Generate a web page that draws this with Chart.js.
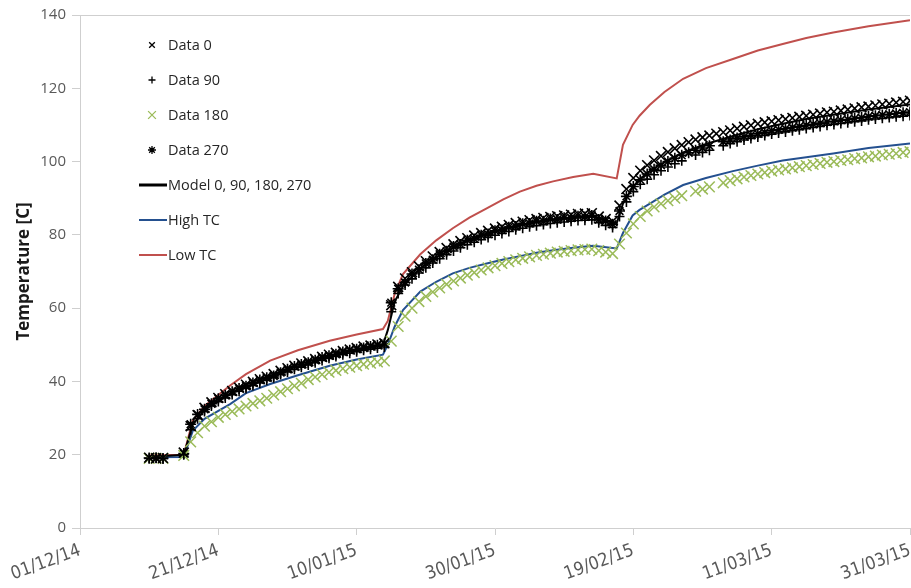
<!DOCTYPE html>
<html>
<head>
<meta charset="utf-8">
<title>Temperature</title>
<script src="https://cdn.jsdelivr.net/npm/chart.js@4.4.1/dist/chart.umd.min.js"></script>
<style>
  html, body { margin: 0; padding: 0; background: #ffffff; }
  canvas { display: block; }
</style>
</head>
<body>
<canvas id="chart" width="911" height="588"></canvas>
<script>
// Days counted from 01/12/14
const tickDays = [0, 20, 40, 60, 80, 100, 120];
const tickLabels = ['01/12/14', '21/12/14', '10/01/15', '30/01/15', '19/02/15', '11/03/15', '31/03/15'];
const yTitle = 'Temperature [C]';

// Measurement days (daily readings)
const dataDays = [10,11,12,15,16,17,18,19,20,21,22,23,24,25,26,27,28,29,30,31,32,33,34,35,36,37,38,39,40,41,42,43,44,
  45,46,47,48,49,50,51,52,53,54,55,56,57,58,59,60,61,62,63,64,65,66,67,68,69,70,71,72,73,74,75,76,77,
  78,79,80,81,82,83,84,85,86,87,88,89,90,91,92,93,94,95,96,97,98,99,100,101,102,103,104,105,106,107,108,109,110,
  111,112,113,114,115,116,117,118,119,120];

const data0 = [19.2,19.0,19.1,
  20.6,27.8,30.8,32.8,34.3,35.5,36.5,37.4,38.3,39.1,39.9,40.6,41.3,42.0,42.9,43.6,44.3,44.9,45.5,46.1,46.7,47.3,47.8,48.3,48.7,49.1,49.5,49.8,50.1,50.4,
  60.8,65.8,68.1,69.8,71.4,72.8,74.1,75.3,76.4,77.4,78.3,79.1,79.8,80.5,81.1,81.7,82.2,82.7,83.2,83.6,84.0,84.3,84.6,84.9,85.1,85.3,85.5,85.7,85.8,85.9,85.0,84.3,83.7,
  88.0,92.5,95.5,97.5,99.0,100.3,101.5,102.6,103.6,104.5,105.3,106.0,106.6,107.1,107.6,108.0,108.5,109.0,109.5,109.9,110.3,110.7,111.0,111.3,111.6,111.9,112.2,112.5,112.8,113.1,113.4,113.6,113.9,114.2,114.5,114.8,115.0,115.3,115.6,115.8,116.1,116.3,116.6];

const data90 = [19.0,19.1,19.0,
  20.0,26.8,29.8,31.8,33.3,34.5,35.5,36.4,37.3,38.1,38.9,39.6,40.3,41.0,41.9,42.6,43.3,43.9,44.5,45.1,45.7,46.3,46.8,47.3,47.7,48.1,48.5,48.8,49.1,49.4,
  59.0,64.0,66.3,68.0,69.6,71.0,72.3,73.5,74.6,75.6,76.5,77.3,78.0,78.7,79.3,79.9,80.4,80.9,81.4,81.8,82.2,82.5,82.8,83.1,83.3,83.5,83.7,83.9,84.0,84.1,83.3,82.6,82.0,
  85.0,89.0,91.8,93.8,95.2,96.4,97.5,98.5,99.4,100.2,null,101.8,102.5,103.1,null,104.3,104.9,105.4,105.9,106.3,106.7,107.1,107.5,107.8,108.1,108.4,108.7,109.0,109.3,109.6,109.9,110.1,110.4,110.6,110.9,111.1,111.4,111.6,111.8,112.0,112.2,112.4,112.6];

const data180 = [19.0,19.0,19.0,
  19.8,23.5,26.0,27.8,29.0,30.2,31.0,31.8,32.5,33.3,34.0,34.7,35.4,36.3,37.2,38.0,38.8,39.5,40.5,41.2,41.9,42.5,43.0,43.5,43.9,44.3,44.7,45.0,45.3,45.6,
  51.0,55.0,57.8,60.0,61.8,63.2,64.4,65.5,66.5,67.4,68.2,69.0,69.7,70.4,71.0,71.6,72.2,72.7,73.2,73.6,74.0,74.4,74.7,75.0,75.3,75.5,75.7,75.9,76.0,76.1,75.7,75.3,74.9,
  77.5,80.5,83.0,85.0,86.5,87.6,88.5,89.3,90.0,90.7,null,91.9,92.5,93.1,null,94.2,94.8,95.3,95.8,96.2,96.6,97.0,97.4,97.7,98.0,98.3,98.6,98.9,99.2,99.5,99.8,100.0,100.3,100.5,100.8,101.0,101.3,101.5,101.8,102.0,102.2,102.5,102.7];

const data270 = [19.1,19.2,19.0,
  20.3,28.3,31.0,32.4,33.9,35.3,36.2,37.2,38.1,38.7,39.6,40.4,41.0,41.5,42.4,43.3,44.1,44.6,45.1,45.8,46.5,47.0,47.4,48.0,48.5,48.8,49.1,49.5,49.9,50.2,
  61.5,65.3,67.0,69.3,70.5,72.2,73.2,74.7,75.5,76.8,77.4,78.5,78.9,79.9,80.2,81.1,81.3,82.1,82.3,83.0,83.1,83.7,83.7,84.3,84.2,84.7,84.6,85.1,84.9,85.3,84.2,83.8,82.9,
  86.5,90.5,93.2,95.0,96.6,97.9,99.0,100.0,100.9,101.7,102.4,103.1,103.7,104.3,null,105.4,105.9,106.4,106.8,107.2,107.6,108.0,108.4,108.7,109.0,109.3,109.6,109.9,110.2,110.5,110.8,111.0,111.3,111.5,111.8,112.0,112.3,112.5,112.7,112.9,113.1,113.3,113.5];

// Simulation output
const modelDays = [10,15,16.3,18,21.7,24,27.5,31.5,36.1,40,43.8,44.5,45.5,46.7,49.2,51.5,53.9,56.3,58.8,61.2,
  63.6,66,68.4,71.3,74.2,77.6,78.5,79.9,80.9,82.4,84.5,87.2,90.5,94.4,98,101.6,105,108.9,114,120];
const modelAll = [19.4,20.0,28.2,32.2,36.6,39.2,41.5,44.6,47.0,48.7,50.0,54.0,61.8,66.0,70.8,73.8,76.4,78.6,80.2,81.6,
  82.6,83.5,84.1,84.7,85.1,83.2,88.5,93.0,95.2,97.5,99.8,102.5,104.8,107.0,108.8,110.3,111.6,112.8,114.2,115.6];
const highTC   = [19.3,19.4,26.5,29.8,33.8,36.8,39.3,41.7,44.3,46.0,47.3,50.0,55.0,59.5,64.5,67.2,69.5,71.0,72.2,73.3,
  74.2,75.1,75.8,76.5,77.0,76.3,80.5,85.3,86.8,88.5,91.0,93.6,95.5,97.4,98.9,100.3,101.2,102.2,103.7,104.9];
const lowTC    = [19.8,20.0,29.3,33.3,38.9,42.0,45.7,48.5,51.1,52.8,54.3,56.5,63.9,69.3,74.7,78.5,81.8,84.7,87.2,89.7,
  91.8,93.4,94.6,95.8,96.7,95.4,104.6,110.0,112.5,115.5,119.0,122.6,125.5,128.0,130.3,132.1,133.7,135.2,136.9,138.6];

const toPoints = (days, vals) => days.map((d, i) => ({ x: d, y: vals[i] }));

const AXIS = '#CFCFCF';
const TEXT = '#595959';

function markerSet(label, vals, style, color, radius, width, legendRadius) {
  return {
    label, data: toPoints(dataDays, vals), showLine: false,
    pointStyle: style, pointRadius: radius, pointBorderWidth: width,
    pointBorderColor: color, pointBackgroundColor: color, borderColor: color,
    legendRadius
  };
}
function lineSet(label, vals, color, width) {
  return {
    label, data: toPoints(modelDays, vals), showLine: true,
    borderColor: color, borderWidth: width, pointRadius: 0,
    tension: 0, fill: false
  };
}

// Legend drawn inside the plot area
const insideLegend = {
  id: 'insideLegend',
  afterDraw(chart) {
    const ctx = chart.ctx;
    ctx.save();
    ctx.font = "14.5px 'Open Sans'";
    ctx.textBaseline = 'middle';
    ctx.textAlign = 'left';
    chart.data.datasets.forEach((ds, i) => {
      const y = 45 + i * 35;
      ctx.strokeStyle = ds.borderColor;
      if (ds.showLine) {
        ctx.lineWidth = i === 4 ? 3 : 2;
        ctx.beginPath(); ctx.moveTo(139, y); ctx.lineTo(167, y); ctx.stroke();
      } else {
        const r = ds.legendRadius, x = 152;
        ctx.lineWidth = 1.3;
        ctx.beginPath();
        if (ds.pointStyle === 'cross' || ds.pointStyle === 'star') {
          ctx.moveTo(x - r, y); ctx.lineTo(x + r, y);
          ctx.moveTo(x, y - r); ctx.lineTo(x, y + r);
        }
        if (ds.pointStyle === 'crossRot' || ds.pointStyle === 'star') {
          const k = r * 0.7071;
          ctx.moveTo(x - k, y - k); ctx.lineTo(x + k, y + k);
          ctx.moveTo(x + k, y - k); ctx.lineTo(x - k, y + k);
        }
        ctx.stroke();
      }
      ctx.fillStyle = '#262626';
      ctx.fillText(ds.label, 168, y + 1);
    });
    ctx.restore();
  }
};

// Top edge of the plot area
const topEdge = {
  id: 'topEdge',
  beforeDatasetsDraw(chart) {
    const { ctx, chartArea } = chart;
    ctx.save();
    ctx.strokeStyle = AXIS;
    ctx.lineWidth = 1;
    ctx.beginPath();
    ctx.moveTo(chartArea.left, chartArea.top + 0.5);
    ctx.lineTo(chartArea.right, chartArea.top + 0.5);
    ctx.stroke();
    ctx.restore();
  }
};

new Chart(document.getElementById('chart'), {
  type: 'scatter',
  data: {
    datasets: [
      markerSet('Data 0', data0, 'crossRot', '#000000', 7, 1.6, 4),
      markerSet('Data 90', data90, 'cross', '#000000', 5, 1.6, 3.5),
      markerSet('Data 180', data180, 'crossRot', '#9BBB59', 7.5, 1.5, 5.5),
      markerSet('Data 270', data270, 'star', '#000000', 5.5, 1.6, 4),
      lineSet('Model 0, 90, 180, 270', modelAll, '#000000', 2),
      lineSet('High TC', highTC, '#24508F', 2),
      lineSet('Low TC', lowTC, '#C0504D', 2)
    ]
  },
  options: {
    responsive: false,
    animation: false,
    layout: { autoPadding: false, padding: { top: 13, right: 1, left: 0, bottom: 0 } },
    plugins: { legend: { display: false }, tooltip: { enabled: false } },
    scales: {
      x: {
        type: 'linear', min: 0, max: 120,
        afterBuildTicks: s => { s.ticks = tickDays.map(v => ({ value: v })); },
        afterFit: s => { s.height = 60; s.paddingRight = 0; s.paddingLeft = 0; },
        ticks: {
          autoSkip: false, minRotation: 20, maxRotation: 20, padding: 5,
          color: TEXT,
          font: { family: "'Liberation Sans Narrow', 'DejaVu Sans Condensed', sans-serif", size: 18 },
          callback: (v, i) => tickLabels[i]
        },
        grid: { drawOnChartArea: false, drawTicks: true, tickLength: 7, color: AXIS, tickColor: AXIS },
        border: { display: true, color: AXIS, width: 1 }
      },
      y: {
        min: 0, max: 140,
        afterFit: s => { s.width = 80; },
        ticks: {
          stepSize: 20, padding: 6, color: TEXT,
          font: { family: "'Open Sans', sans-serif", size: 15 }
        },
        grid: { drawOnChartArea: false, drawTicks: true, tickLength: 8, color: AXIS, tickColor: AXIS },
        border: { display: true, color: AXIS, width: 1 },
        title: {
          display: true, text: yTitle, color: '#1A1A1A',
          font: { family: "'Open Sans', sans-serif", size: 17, weight: 'bold' },
          padding: { top: 14, bottom: 0 }
        }
      }
    }
  },
  plugins: [topEdge, insideLegend]
});
</script>
</body>
</html>
